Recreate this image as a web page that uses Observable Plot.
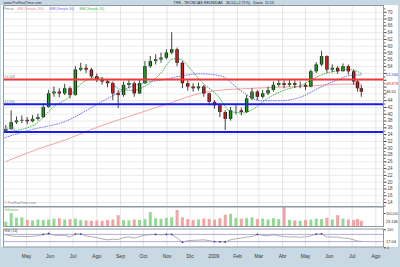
<!DOCTYPE html>
<html><head><meta charset="utf-8">
<script src="https://cdn.jsdelivr.net/npm/d3@7"></script>
<script src="https://cdn.jsdelivr.net/npm/@observablehq/plot@0.6"></script>
<style>
html,body{margin:0;padding:0;background:#c9d9e3;}
#wrap{position:relative;width:400px;height:267px;background:#c9d9e3;overflow:hidden;}
#paper{position:absolute;left:1px;top:5px;width:397px;height:242px;background:#fff;}
#wrap svg{position:absolute;left:0;overflow:visible;}
#wrap svg text{white-space:pre;}
</style></head><body><div id="wrap"><div id="paper"></div></div>
<script>
// ---------- data ----------
const weekDates = ["2008-04-04","2008-04-11","2008-04-18","2008-04-25","2008-05-02","2008-05-09","2008-05-16","2008-05-23","2008-05-30","2008-06-06","2008-06-13","2008-06-20","2008-06-27","2008-07-04","2008-07-11","2008-07-18","2008-07-25","2008-08-01","2008-08-08","2008-08-15","2008-08-22","2008-08-29","2008-09-05","2008-09-12","2008-09-19","2008-09-26","2008-10-03","2008-10-10","2008-10-17","2008-10-24","2008-10-31","2008-11-07","2008-11-14","2008-11-21","2008-11-28","2008-12-05","2008-12-12","2008-12-19","2008-12-26","2009-01-02","2009-01-09","2009-01-16","2009-01-23","2009-01-30","2009-02-06","2009-02-13","2009-02-20","2009-02-27","2009-03-06","2009-03-13","2009-03-20","2009-03-27","2009-04-03","2009-04-10","2009-04-17","2009-04-24","2009-05-01","2009-05-08","2009-05-15","2009-05-22","2009-05-29","2009-06-05","2009-06-12","2009-06-19","2009-06-26","2009-07-03","2009-07-08","2009-07-13"];
const wOpen  = [35.0,35.5,37.5,38.0,38.2,37.8,38.5,39.0,42.0,46.0,46.5,46.0,47.5,45.5,53.0,53.5,53.0,51.0,50.0,49.5,49.0,46.0,45.5,48.5,49.0,46.0,49.0,54.0,55.5,56.0,56.5,58.0,59.0,55.0,49.0,48.0,47.5,48.0,46.0,43.5,42.5,40.5,38.5,41.0,41.0,40.5,44.5,46.5,45.0,46.0,47.0,48.5,49.0,48.5,49.0,48.5,48.5,48.0,52.5,54.5,57.0,53.0,53.5,52.5,54.0,52.5,49.5,47.5];
const wHigh  = [36.7,41.0,39.2,39.5,39.0,39.6,40.0,43.0,47.0,48.0,47.5,48.8,48.0,54.0,55.0,54.6,53.5,51.8,50.8,50.2,49.5,47.0,49.5,50.0,49.5,50.0,55.5,57.0,57.5,58.0,59.0,64.0,59.5,55.5,49.8,49.0,49.2,48.5,46.2,44.0,43.0,41.0,42.0,42.5,41.8,45.5,47.5,47.0,47.0,48.0,49.5,50.0,49.8,50.0,49.8,49.5,49.0,53.0,55.2,58.5,57.2,54.5,54.0,54.8,54.5,53.0,50.0,48.5];
const wLow   = [34.8,35.3,37.0,37.2,36.9,37.5,38.0,38.8,41.8,45.0,44.8,45.5,44.5,45.3,52.5,52.0,50.5,49.3,48.6,47.8,44.0,41.7,45.0,47.5,45.0,45.8,48.8,53.5,54.5,55.0,56.0,57.5,54.0,47.5,46.8,46.5,46.8,45.0,42.5,41.5,39.0,35.2,38.0,39.8,39.5,40.2,44.0,44.0,44.5,45.5,46.5,48.0,47.5,48.0,47.6,47.5,47.0,47.8,52.0,54.0,52.0,52.2,51.8,52.5,51.5,48.5,46.5,45.0];
const wClose = [35.5,37.5,38.0,38.2,37.8,38.5,39.0,42.0,46.0,46.5,46.0,47.5,45.5,53.0,53.5,53.0,51.0,50.0,49.5,49.0,46.0,45.5,48.5,49.0,46.0,49.0,54.0,55.5,56.0,56.5,58.0,59.0,55.0,49.0,48.0,47.5,48.0,46.0,43.5,42.5,40.5,38.5,41.0,41.0,40.5,44.5,46.5,45.0,46.0,47.0,48.5,49.0,48.5,49.0,48.5,48.5,48.0,52.5,54.5,57.0,53.0,53.5,52.5,54.0,52.5,49.5,47.5,46.51];
const volThousands = [100,300,190,200,140,130,150,140,150,170,180,150,160,170,140,130,120,130,120,140,150,250,140,130,150,140,160,320,180,170,190,200,370,200,160,140,150,170,160,150,180,260,280,190,170,180,200,160,170,150,180,160,440,140,130,120,140,150,170,160,190,150,250,170,150,140,160,120];
const rsi14 = [68,62,58,60,58,60,62,70,75,66,64,66,55,72,72,62,57,52,45,40,43,42,52,56,50,58,66,68,70,67,70,70,50,27,35,37,38,40,35,30,29,28,40,46,50,55,58,70,65,62,68,62,58,55,57,54,56,62,72,73,56,55,55,50,48,40,33,31];

const ma200Dates = ["2008-04-04","2008-05-19","2008-06-23","2008-07-21","2008-09-14","2008-11-05","2008-12-15","2009-01-06","2009-02-18","2009-04-25","2009-06-29","2009-07-13"];
const ma200 = [26.1,30.0,32.6,35.2,39.5,43.3,46.2,47.0,47.6,48.2,48.9,48.878];
const ma50Dates = ["2008-04-01","2008-05-03","2008-06-23","2008-08-06","2008-09-18","2008-11-01","2008-11-22","2008-12-14","2009-01-10","2009-02-05","2009-03-03","2009-03-29","2009-04-24","2009-05-20","2009-06-15","2009-06-28","2009-07-13"];
const ma50 = [33.0,35.2,38.1,43.5,48.4,50.4,51.4,51.9,51.3,47.0,44.0,44.0,45.0,47.9,50.4,51.4,51.566];
const ma20Dates = ["2008-04-01","2008-05-10","2008-05-23","2008-06-05","2008-06-23","2008-07-14","2008-08-02","2008-08-19","2008-09-01","2008-09-18","2008-10-01","2008-10-23","2008-11-09","2008-11-18","2008-12-01","2008-12-14","2009-01-06","2009-01-23","2009-02-09","2009-02-22","2009-03-12","2009-04-02","2009-04-24","2009-05-20","2009-06-15","2009-06-28","2009-07-13"];
const ma20 = [34.7,36.7,39.1,42.1,44.6,49.4,50.9,49.3,47.3,47.0,48.0,51.9,56.3,56.2,53.5,50.0,45.5,40.8,40.4,41.6,44.6,47.0,48.4,51.4,52.9,53.2,52.0];

const levelValues = [50.208, 42.93, 34.78];
const yMajor = [14,16,18,20,22,24,26,28,30,32,34,36,38,40,42,44,46,48,50,52,54,56,58,60,62,64,66,68,70];
const yMinor = [13,15,17,19,21,23,25,27,29,31,33,35,37,39,41,43,45,47,49,51,53,55,57,59,61,63,65,67,69,71];
const monthDates = ["2008-05-01","2008-06-01","2008-07-01","2008-08-01","2008-09-01","2008-10-01","2008-11-01","2008-12-01","2009-01-01","2009-02-01","2009-03-01","2009-04-01","2009-05-01","2009-06-01","2009-07-01","2009-08-01"];
const monthLabels = ["May","Jun","Jul","Ago","Sep","Oct","Nov","Dic","2009","Feb","Mar","Abr","May","Jun","Jul","Ago"];
const volTicks = [300];
const rsiTicks = [0, 100];
const rsiBands = [30, 70];

const siteText = "www.ProRealTime.com";
const titleText = "TRE - TECNICAS REUNIDAS   46,51(+2,75%)   Diario  11:53";
const legendLabels = ["Precio", "MM (Simple 200)", "MM (Simple 50)", "MM (Simple 20)"];
const watermark = "\u00a9 ProRealTime.com";
const volLabel = "Volumen";
const volBoxText = "23.136";
const rsiLabel = "RSI (14)";
const rsiBoxText = "17.04";

// ---------- build ----------
const FONT = "'Liberation Sans', Arial, sans-serif";
const X0 = new Date("2008-04-01"), X1 = new Date("2009-08-11");
const xOpt = {type: "utc", domain: [X0, X1], label: null};
const weekRows = weekDates.map((d, i) => ({date: new Date(d), open: wOpen[i], high: wHigh[i], low: wLow[i], close: wClose[i], vol: volThousands[i], rsi: rsi14[i]}));
const up = r => r.close >= r.open;
const series = (dates, vals) => dates.map((d, i) => ({date: new Date(d), v: vals[i]}));
const mDates = monthDates.map(d => new Date(d));
const monthFmt = d => monthLabels[mDates.findIndex(t => +t === +d)];
const levelColors = ["#ee3a3a", "#1c1ce8", "#1c1ce8"];
const gridC = "#dedede", frameC = "#8c99a2";
const common = {width: 400, marginLeft: 3, marginRight: 17, style: {fontFamily: FONT, background: "transparent"}};

const lastClose = wClose[wClose.length - 1];
const lastMa50 = ma50[ma50.length - 1];
const lastMa200 = ma200[ma200.length - 1];
const boxVals = [lastMa50, lastMa200, lastClose];
// axis labels hidden behind the value boxes, as in the reference
const yLabelFmt = d => boxVals.some(b => Math.abs(b - d) < 1.6) ? "" : String(d);
const legendDx = [0, 14, 46, 76];
const legendColors = ["#777", "#e88a8a", "#6a6af0", "#49b649"];

const main = Plot.plot({
  ...common, height: 207, marginTop: 5, marginBottom: 1,
  x: {...xOpt, axis: null}, y: {domain: [12.85, 72], axis: null, label: null},
  marks: [
    Plot.ruleY(yMajor, {stroke: "#e6e6e6", strokeWidth: 0.8}),
    Plot.ruleX(mDates, {stroke: gridC, strokeWidth: 0.8}),
    Plot.line(series(ma200Dates, ma200), {x: "date", y: "v", stroke: "#f3a4a4", strokeWidth: 1, curve: "monotone-x"}),
    Plot.line(series(ma50Dates, ma50), {x: "date", y: "v", stroke: "#6464f2", strokeWidth: 0.9, strokeDasharray: "0.9,1.6", curve: "monotone-x"}),
    Plot.line(series(ma20Dates, ma20), {x: "date", y: "v", stroke: "#2fb12f", strokeWidth: 0.9, strokeDasharray: "0.9,1.6", curve: "monotone-x"}),
    Plot.ruleX(weekRows, {x: "date", y1: "low", y2: "high", stroke: "#111", strokeWidth: 0.8}),
    Plot.ruleX(weekRows, {x: "date", y1: "open", y2: "close", stroke: "#111", strokeWidth: 3.4}),
    Plot.ruleX(weekRows, {x: "date", y1: "open", y2: "close", stroke: r => up(r) ? "#20a020" : "#d81e1e", strokeWidth: 1.8}),
    Plot.ruleY(levelValues, {y: d => d, stroke: (d, i) => levelColors[i], strokeWidth: 2}),
    Plot.text(levelValues, {y: d => d, text: d => d.toFixed(3), frameAnchor: "left", dx: 1, dy: -2.6, textAnchor: "start", fontSize: 3.4, fill: "#888"}),
    Plot.frame({stroke: frameC}),
    Plot.axisY({anchor: "right", ticks: yMinor, tickSize: 1.5, tickFormat: () => "", color: "#666", label: null}),
    Plot.axisY({anchor: "right", ticks: yMajor, tickSize: 2.5, tickPadding: 1.5, fontSize: 4.5, color: "#444", tickFormat: yLabelFmt, label: null}),
    Plot.text([siteText], {text: d => d, frameAnchor: "top-left", dy: -2.2, textAnchor: "start", lineAnchor: "middle", fontSize: 3.7, fill: "#1d2d5e"}),
    Plot.text([titleText], {text: d => d, frameAnchor: "top-left", dx: 170, dy: -2.2, textAnchor: "start", lineAnchor: "middle", fontSize: 3.7, fill: "#1a1a2a"}),
    ...legendLabels.map((t, i) => Plot.text([t], {text: d => d, frameAnchor: "top-left", dx: legendDx[i], dy: 3, textAnchor: "start", lineAnchor: "middle", fontSize: 3.5, fill: legendColors[i]})),
    Plot.text([watermark], {text: d => d, frameAnchor: "bottom-left", dx: 1, dy: -4, textAnchor: "start", lineAnchor: "middle", fontSize: 3.5, fill: "#888"}),
    Plot.text([lastMa50], {y: d => d, text: d => String(d), frameAnchor: "right", dx: 2.5, textAnchor: "start", fontSize: 4, fill: "#3a3ad0", ariaLabel: "vbox"}),
    Plot.text([lastMa200], {y: d => d, text: d => String(d), frameAnchor: "right", dx: 2.5, textAnchor: "start", fontSize: 4, fill: "#d03030", ariaLabel: "vbox"}),
    Plot.text([lastClose], {y: d => d, text: d => String(d), frameAnchor: "right", dx: 2.5, textAnchor: "start", fontSize: 4, fill: "#222", ariaLabel: "vbox"})
  ]
});

const volP = Plot.plot({
  ...common, height: 21, marginTop: 0.5, marginBottom: 1,
  x: {...xOpt, axis: null}, y: {domain: [0, 450], axis: null, label: null},
  marks: [
    Plot.ruleX(mDates, {stroke: gridC, strokeWidth: 0.8}),
    Plot.ruleX(weekRows, {x: "date", y1: 0, y2: "vol", stroke: r => up(r) ? "#93d993" : "#f2a3a3", strokeWidth: 3}),
    Plot.frame({stroke: frameC}),
    Plot.axisY({anchor: "right", ticks: volTicks, tickSize: 1.5, tickPadding: 1, fontSize: 3.4, color: "#444", tickFormat: d => d3.format(",")(d * 1000), label: null}),
    Plot.text([volLabel], {text: d => d, frameAnchor: "top-left", dx: 1, dy: 2.5, textAnchor: "start", lineAnchor: "middle", fontSize: 3.5, fill: "#5cba5c"}),
    Plot.text([volThousands[volThousands.length - 1]], {y: d => d, text: () => volBoxText, frameAnchor: "right", dx: 2.5, textAnchor: "start", fontSize: 3.8, fill: "#222", ariaLabel: "vbox"})
  ]
});

const rsiP = Plot.plot({
  ...common, height: 40, marginTop: 1.5, marginBottom: 20.5,
  x: {...xOpt}, y: {domain: [0, 100], axis: null, label: null},
  marks: [
    Plot.ruleX(mDates, {stroke: gridC, strokeWidth: 0.8}),
    Plot.ruleY(rsiBands, {stroke: "#a4a4e6", strokeWidth: 0.9}),
    Plot.line(weekRows, {x: "date", y: "rsi", stroke: "#999", strokeWidth: 0.8}),
    Plot.dot(weekRows.filter(r => r.rsi >= 70 || r.rsi <= 30), {x: "date", y: "rsi", r: 0.9, fill: "#3434c8"}),
    Plot.frame({stroke: frameC}),
    Plot.axisY({anchor: "right", ticks: rsiTicks, tickSize: 2, tickPadding: 1.5, fontSize: 3.8, color: "#444", dy: 0.8, label: null}),
    Plot.axisX({anchor: "bottom", ticks: mDates, tickFormat: monthFmt, tickSize: 0, tickPadding: 7, fontSize: 5, color: "#333", label: null}),
    Plot.text([rsiLabel], {text: d => d, frameAnchor: "top-left", dx: 1, dy: 2, textAnchor: "start", lineAnchor: "middle", fontSize: 3.5, fill: "#333"}),
    Plot.text([rsi14[rsi14.length - 1]], {y: d => d, text: () => rsiBoxText, frameAnchor: "right", dx: 2.5, textAnchor: "start", fontSize: 4, fill: "#222", ariaLabel: "vbox"})
  ]
});

const wrap = document.getElementById("wrap");
[[main, 0], [volP, 206], [rsiP, 227]].forEach(([svg, top]) => {
  svg.style.position = "absolute"; svg.style.left = "0px"; svg.style.top = top + "px";
  svg.style.background = "transparent"; svg.style.overflow = "visible";
  wrap.appendChild(svg);
});

function boxify(svg, styles) {
  const texts = svg.querySelectorAll('g[aria-label="vbox"] text');
  texts.forEach((t, i) => {
    const s = styles[i];
    const b = t.getBBox();
    const r = document.createElementNS("http://www.w3.org/2000/svg", "rect");
    r.setAttribute("x", b.x - 0.8); r.setAttribute("y", b.y - 0.3);
    r.setAttribute("width", b.width + 1.6); r.setAttribute("height", b.height + 0.6);
    r.setAttribute("fill", s.fill); r.setAttribute("stroke", s.stroke); r.setAttribute("stroke-width", 0.5);
    if (t.getAttribute("transform")) r.setAttribute("transform", t.getAttribute("transform"));
    t.parentNode.insertBefore(r, t);
  });
}
boxify(main, [{fill: "#eef0ff", stroke: "#7a7ae8"}, {fill: "#fff0f0", stroke: "#e07a7a"}, {fill: "#f3c21c", stroke: "#c99a00"}]);
boxify(volP, [{fill: "#f3c21c", stroke: "#c99a00"}]);
boxify(rsiP, [{fill: "#ffffff", stroke: "#555"}]);
</script></body></html>
